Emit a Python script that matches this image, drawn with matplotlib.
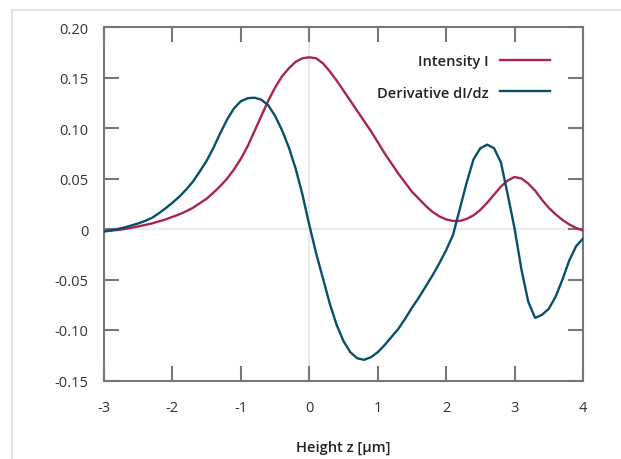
import numpy as np
import matplotlib.pyplot as plt
from matplotlib.lines import Line2D

# height positions (µm), one reading every 0.1
z = np.round(np.arange(-3.0, 4.01, 0.1), 1)

# values
intensity = [-0.002, -0.0015, -0.001, 0.0, 0.0012, 0.0025, 0.004, 0.0055, 0.0075, 0.0095,
             0.012, 0.0145, 0.0175, 0.021, 0.0255, 0.030, 0.036, 0.0425, 0.050, 0.059,
             0.0695, 0.082, 0.097, 0.112, 0.127, 0.140, 0.151, 0.159, 0.1655, 0.169,
             0.170, 0.169, 0.164, 0.156, 0.147, 0.137, 0.127, 0.117, 0.107, 0.097,
             0.086, 0.075, 0.065, 0.055, 0.046, 0.037, 0.030, 0.023, 0.017, 0.0125,
             0.0095, 0.008, 0.008, 0.010, 0.0135, 0.019, 0.026, 0.034, 0.042, 0.048,
             0.0515, 0.050, 0.045, 0.038, 0.029, 0.021, 0.0145, 0.009, 0.0045, 0.001,
             -0.0015]

derivative = [-0.0025, -0.0015, 0.0, 0.0015, 0.0035, 0.0055, 0.008, 0.011, 0.0155, 0.0205,
              0.026, 0.032, 0.039, 0.047, 0.057, 0.0675, 0.0805, 0.095, 0.1085, 0.1195,
              0.1265, 0.1295, 0.130, 0.128, 0.1225, 0.112, 0.098, 0.081, 0.060, 0.034,
              0.004, -0.024, -0.049, -0.074, -0.095, -0.111, -0.122, -0.128, -0.1295, -0.127,
              -0.122, -0.115, -0.107, -0.099, -0.089, -0.078, -0.068, -0.057, -0.046, -0.034,
              -0.021, -0.006, 0.020, 0.046, 0.069, 0.080, 0.0835, 0.080, 0.066, 0.034,
              0.0005, -0.040, -0.072, -0.088, -0.085, -0.079, -0.067, -0.050, -0.031, -0.017,
              -0.0095]

xticks = [-3, -2, -1, 0, 1, 2, 3, 4]
yticks = [-0.15, -0.10, -0.05, 0, 0.05, 0.10, 0.15, 0.20]
ytick_labels = ["-0.15", "-0.10", "-0.05", "0", "0.05", "0.10", "0.15", "0.20"]

plt.rcParams['font.family'] = ['Open Sans', 'DejaVu Sans']

fig = plt.figure(figsize=(6.21, 4.60), dpi=100)
ax = fig.add_axes([104 / 621, 1 - 381.5 / 460, 479 / 621, 353.5 / 460])

# light outer frame
fig.add_artist(Line2D([12 / 621, 12 / 621], [0, 1 - 11 / 460], color='#e3e3e3', lw=1.5))
fig.add_artist(Line2D([12 / 621, 1], [1 - 11 / 460, 1 - 11 / 460], color='#e3e3e3', lw=1.5))

ax.axhline(0, color='#ebebeb', lw=1.6, zorder=1)
ax.axvline(0, color='#ebebeb', lw=1.6, zorder=1)

ax.plot(z, intensity, color='#A8254F', lw=1.7, label='Intensity I', zorder=3)
ax.plot(z, derivative, color='#07506B', lw=1.7, label='Derivative dI/dz', zorder=3)

ax.set_xlim(-3, 4)
ax.set_ylim(-0.15, 0.20)
ax.set_xticks(xticks)
ax.set_xticklabels([str(t) for t in xticks])
ax.set_yticks(yticks)
ax.set_yticklabels(ytick_labels)

for s in ax.spines.values():
    s.set_color('#777777')
    s.set_linewidth(1.5)
ax.tick_params(axis='both', direction='in', length=11, width=1.5, color='#777777',
               top=True, right=True, labelsize=10.5, labelcolor='#333333')
ax.tick_params(axis='x', pad=14)
ax.tick_params(axis='y', pad=11)

ax.set_xlabel('Height z [µm]', fontsize=10.5, fontweight='semibold', color='#222222', labelpad=18)

leg = ax.legend(loc='upper right', bbox_to_anchor=(1 - 33 / 479, 1 - 27 / 353.5),
                borderaxespad=0, borderpad=0, frameon=False, markerfirst=False,
                handlelength=3.4, handletextpad=0.8, labelspacing=1.2,
                prop={'size': 10.5, 'weight': 'semibold'})
for t in leg.get_texts():
    t.set_color('#222222')

fig.savefig('out.png', dpi=100)
